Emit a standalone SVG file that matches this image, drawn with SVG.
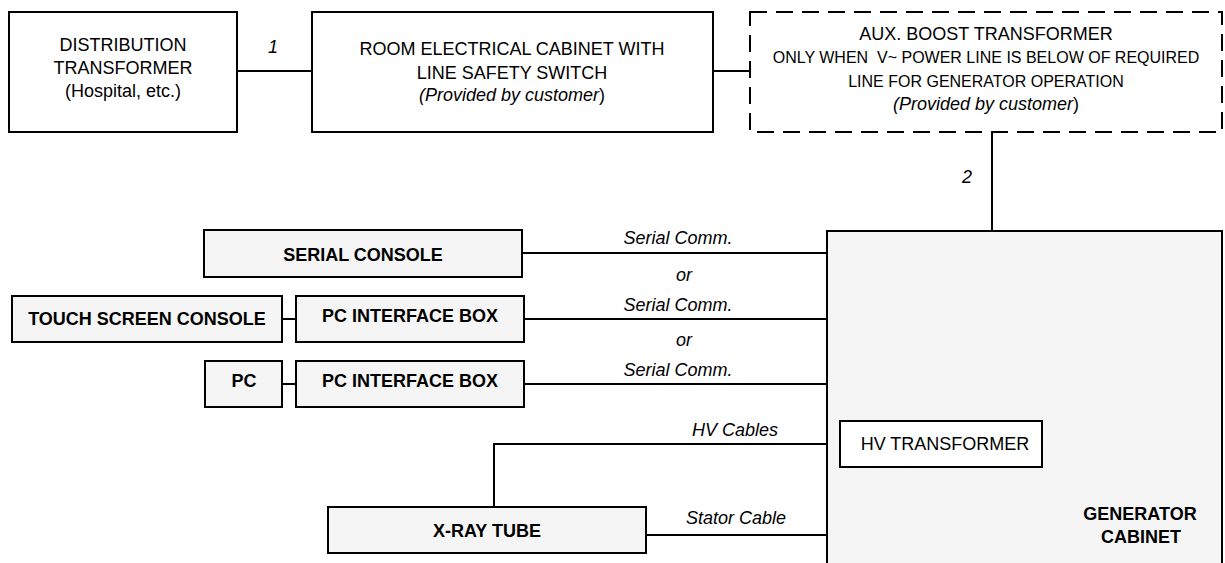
<svg xmlns="http://www.w3.org/2000/svg" width="1225" height="563" viewBox="0 0 1225 563">
<style>
text{font-family:"Liberation Sans",Arial,Helvetica,sans-serif;font-size:18px;fill:#000;text-anchor:middle}
.b{font-weight:bold}
.i{font-style:italic}
.s{font-size:16px}
.box{fill:#fff;stroke:#000;stroke-width:2}
.gbox{fill:#f5f5f5;stroke:#000;stroke-width:2}
.dash{fill:#fff;stroke:#000;stroke-width:2;stroke-dasharray:17 9}
.ln{fill:none;stroke:#000;stroke-width:2}
</style>
<rect width="1225" height="563" fill="#fff"/>
<g id="connectors">
<line class="ln" x1="237" y1="71" x2="312" y2="71"/>
<line class="ln" x1="713" y1="71" x2="750" y2="71"/>
<line class="ln" x1="992" y1="132" x2="992" y2="231"/>
<line class="ln" x1="522" y1="253" x2="827" y2="253"/>
<line class="ln" x1="282" y1="319" x2="296" y2="319"/>
<line class="ln" x1="524" y1="319" x2="827" y2="319"/>
<line class="ln" x1="282" y1="384" x2="296" y2="384"/>
<line class="ln" x1="524" y1="384" x2="827" y2="384"/>
<polyline class="ln" points="494,507 494,444 840,444"/>
<line class="ln" x1="646" y1="535" x2="827" y2="535"/>
<text class="i" x="273" y="53">1</text>
<text class="i" x="967" y="183">2</text>
<text class="i" x="678" y="244">Serial Comm.</text>
<text class="i" x="684" y="281">or</text>
<text class="i" x="678" y="311">Serial Comm.</text>
<text class="i" x="684" y="346">or</text>
<text class="i" x="678" y="376">Serial Comm.</text>
<text class="i" x="735" y="436">HV Cables</text>
<text class="i" x="736" y="524">Stator Cable</text>
</g>
<g id="distribution-transformer">
<rect class="box" x="9" y="12" width="228" height="120"/>
<text x="123" y="51">DISTRIBUTION</text>
<text x="123" y="74">TRANSFORMER</text>
<text x="123" y="97">(Hospital, etc.)</text>
</g>
<g id="room-cabinet">
<rect class="box" x="312" y="12" width="401" height="120"/>
<text x="512" y="55">ROOM ELECTRICAL CABINET WITH</text>
<text x="512" y="79">LINE SAFETY SWITCH</text>
<text x="512" y="101"><tspan class="i">(Provided by customer</tspan>)</text>
</g>
<g id="aux-boost-transformer">
<rect class="dash" x="750" y="12" width="472" height="120"/>
<text x="986" y="40">AUX. BOOST TRANSFORMER</text>
<text class="s" x="986" y="63">ONLY WHEN&#160; V~ POWER LINE IS BELOW OF REQUIRED</text>
<text class="s" x="986" y="87">LINE FOR GENERATOR OPERATION</text>
<text x="986" y="110"><tspan class="i">(Provided by customer</tspan>)</text>
</g>
<g id="generator-cabinet">
<rect class="gbox" x="827" y="231" width="395" height="345"/>
<text class="b" x="1140" y="520">GENERATOR</text>
<text class="b" x="1141" y="543">CABINET</text>
</g>
<g id="hv-transformer">
<rect class="box" x="840" y="421" width="202" height="46"/>
<text x="945" y="450">HV TRANSFORMER</text>
</g>
<g id="serial-console">
<rect class="gbox" x="204" y="230" width="318" height="47"/>
<text class="b" x="363" y="261">SERIAL CONSOLE</text>
</g>
<g id="touch-screen-console">
<rect class="gbox" x="12" y="296" width="270" height="46"/>
<text class="b" x="147" y="325">TOUCH SCREEN CONSOLE</text>
</g>
<g id="pc-interface-box-1">
<rect class="gbox" x="296" y="296" width="228" height="46"/>
<text class="b" x="410" y="322">PC INTERFACE BOX</text>
</g>
<g id="pc">
<rect class="gbox" x="205" y="361" width="77" height="46"/>
<text class="b" x="244" y="387">PC</text>
</g>
<g id="pc-interface-box-2">
<rect class="gbox" x="296" y="361" width="228" height="46"/>
<text class="b" x="410" y="387">PC INTERFACE BOX</text>
</g>
<g id="x-ray-tube">
<rect class="gbox" x="328" y="507" width="318" height="46"/>
<text class="b" x="487" y="537">X-RAY TUBE</text>
</g>
</svg>
